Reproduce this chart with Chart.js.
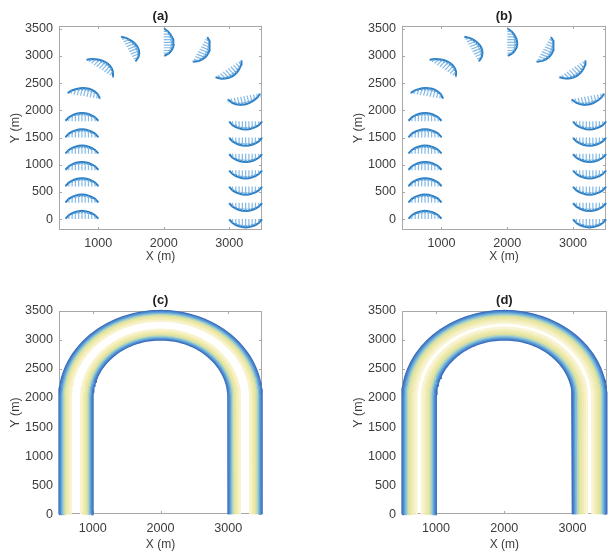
<!DOCTYPE html>
<html><head><meta charset="utf-8">
<script src="https://cdn.jsdelivr.net/npm/chart.js@4.4.0/dist/chart.umd.min.js"></script>
<style>
html,body{margin:0;padding:0;background:#fff;}
#wrap{position:relative;width:614px;height:554px;overflow:hidden;}
canvas{position:absolute;}
</style></head><body>
<div id="wrap">
<canvas id="ca" width="307" height="277" style="left:0;top:0"></canvas>
<canvas id="cb" width="307" height="277" style="left:307px;top:0"></canvas>
<canvas id="cc" width="307" height="277" style="left:0;top:277px"></canvas>
<canvas id="cd" width="307" height="277" style="left:307px;top:277px"></canvas>
</div>
<script>
// ---- tick labels ----
const xTicks = [1000, 2000, 3000];
const yTicks = [0, 500, 1000, 1500, 2000, 2500, 3000, 3500];
const panelTitles = ['(a)', '(b)', '(c)', '(d)'];

// ---- channel geometry (m) ----
const leftLegWalls = [1000, 500];     // inner, outer x
const rightLegWalls = [3000, 3500];   // inner, outer x
const bendCenter = [2000, 2000];
const bendRadii = [1000, 1500];       // inner, outer

// ---- velocity-profile stations (panels a, b) ----
const leftLegStations = [0, 300, 600, 900, 1200, 1500, 1800];   // y of section, flow +y
const bendStationsDeg = [168, 142, 116, 90, 64, 38, 12];          // section angle, flow clockwise
const rightLegStations = [1800, 1500, 1200, 900, 600, 300, 0];  // y of section, flow -y
const acrossOffsets = [0, 50, 100, 150, 200, 250, 300, 350, 400, 450, 500]; // m from inner wall

// profile arrow lengths (m) at each across offset
const profileStraightA = [8, 72, 108, 132, 147, 152, 147, 132, 108, 72, 8];
const profileBendA     = [10, 82, 118, 140, 150, 150, 142, 124, 98, 64, 8];
const profileStraightB = [8, 72, 108, 132, 147, 152, 147, 132, 108, 72, 8];
const profileBendB     = [10, 80, 116, 139, 150, 150, 143, 126, 100, 66, 8];

// ---- velocity contours (panels c, d): distance of each contour from a wall (m) ----
const contourOffsetsC = [3, 14, 27, 42, 58, 75, 95, 118, 145, 175];
const contourColorsC  = ['#3a68bd','#4279c5','#4f8dcf','#66a6d6','#88c0d6','#b3d6c0','#dfe4a0','#ece7a4','#f3edb6','#f8f3cc'];
const contourOffsetsD = [3, 15, 29, 45, 62, 82, 104, 128, 155, 185, 212];
const contourColorsD  = ['#3a68bd','#4279c5','#4f8dcf','#66a6d6','#88c0d6','#b3d6c0','#dce3a0','#e9e6a3','#f0eab0','#f5f0c2','#f9f4d4'];

const GAP = {x: null, y: null};
const rad = d => d * Math.PI / 180;

function sections() {
  const s = [];
  leftLegStations.forEach(y => s.push({base: o => [leftLegWalls[0] - o, y], dir: [0, 1], bend: false}));
  bendStationsDeg.forEach(d => {
    const t = rad(d);
    s.push({base: o => [bendCenter[0] + (bendRadii[0] + o) * Math.cos(t), bendCenter[1] + (bendRadii[0] + o) * Math.sin(t)],
            dir: [Math.sin(t), -Math.cos(t)], bend: true});
  });
  rightLegStations.forEach(y => s.push({base: o => [rightLegWalls[0] + o, y], dir: [0, -1], bend: false}));
  return s;
}

function quiverData(profStraight, profBend) {
  const hatch = [], env = [], heads = [];
  sections().forEach(sec => {
    const prof = sec.bend ? profBend : profStraight;
    const [dx, dy] = sec.dir;
    acrossOffsets.forEach((o, i) => {
      const [bx, by] = sec.base(o);
      const L = prof[i];
      const tx = bx + L * dx, ty = by + L * dy;
      hatch.push({x: bx, y: by}, {x: tx, y: ty}, GAP);
      env.push({x: tx, y: ty});
      const h = 0.3 * L, a = 0.35;
      const c = Math.cos(a), s = Math.sin(a);
      const r1 = [-(dx * c - dy * s) * h, -(dx * s + dy * c) * h];
      const r2 = [-(dx * c + dy * s) * h, -(-dx * s + dy * c) * h];
      heads.push({x: tx + r1[0], y: ty + r1[1]}, {x: tx, y: ty}, {x: tx + r2[0], y: ty + r2[1]}, GAP);
    });
    env.push(GAP);
  });
  return [hatch, env, heads];
}

function uPath(xLeft, radius, xRight) {
  const pts = [{x: xLeft, y: 0}, {x: xLeft, y: bendCenter[1]}];
  for (let d = 180; d >= 0; d -= 2) {
    const t = rad(d);
    pts.push({x: bendCenter[0] + radius * Math.cos(t), y: bendCenter[1] + radius * Math.sin(t)});
  }
  pts.push({x: xRight, y: bendCenter[1]}, {x: xRight, y: 0});
  return pts;
}

function contourDatasets(offsets, colors) {
  return offsets.map((d, i) => ({
    data: uPath(leftLegWalls[1] + d, bendRadii[1] - d, rightLegWalls[1] - d)
      .concat([GAP], uPath(leftLegWalls[0] - d, bendRadii[0] + d, rightLegWalls[0] + d)),
    borderColor: colors[i], borderWidth: 2, showLine: true, pointRadius: 0, clip: false, spanGaps: false
  })).reverse();
}

const FONT = '"Liberation Sans", Arial, Helvetica, sans-serif';
const TXT = '#3c3c3c';

const boxPlugin = {
  id: 'mbox',
  beforeDatasetsDraw(chart) {
    const {ctx, chartArea: a, scales: {x, y}} = chart;
    ctx.save();
    ctx.strokeStyle = '#a8a8a8'; ctx.lineWidth = 1;
    const L = Math.round(a.left) + 0.5, T = Math.round(a.top) + 0.5, R = Math.round(a.right) - 0.5, B = Math.round(a.bottom) - 0.5;
    ctx.strokeRect(L, T, R - L, B - T);
    ctx.beginPath();
    x.ticks.forEach(t => { const p = Math.round(x.getPixelForValue(t.value)) + 0.5; ctx.moveTo(p, B); ctx.lineTo(p, B - 2.5); ctx.moveTo(p, T); ctx.lineTo(p, T + 2.5); });
    y.ticks.forEach(t => { const p = Math.round(y.getPixelForValue(t.value)) + 0.5; ctx.moveTo(L, p); ctx.lineTo(L + 2.5, p); ctx.moveTo(R, p); ctx.lineTo(R - 2.5, p); });
    ctx.stroke();
    ctx.restore();
  }
};

function makeChart(id, title, datasets, cfg) {
  return new Chart(document.getElementById(id), {
    type: 'scatter',
    data: {datasets},
    plugins: [boxPlugin],
    options: {
      responsive: false, animation: false, events: [],
      layout: {padding: cfg.pad},
      plugins: {
        legend: {display: false}, tooltip: {enabled: false},
        title: {display: true, text: title, fullSize: false, color: '#222',
                font: {family: FONT, size: 13, weight: 'bold'}, padding: cfg.titlePad}
      },
      scales: {
        x: {
          type: 'linear', min: cfg.xlim[0], max: cfg.xlim[1],
          afterBuildTicks: s => { s.ticks = xTicks.map(v => ({value: v})); },
          afterFit: s => { s.height = cfg.xh; },
          grid: {display: false, drawTicks: false}, border: {display: false},
          ticks: {padding: cfg.xtp, color: TXT, font: {family: FONT, size: 12.6}, callback: v => String(v), maxRotation: 0},
          title: {display: true, text: 'X (m)', color: TXT, font: {family: FONT, size: 12}, padding: {top: 0, bottom: cfg.xTitleBottom}}
        },
        y: {
          type: 'linear', min: cfg.ylim[0], max: cfg.ylim[1],
          afterBuildTicks: s => { s.ticks = yTicks.map(v => ({value: v})); },
          afterFit: s => { s.width = 59; },
          grid: {display: false, drawTicks: false}, border: {display: false},
          ticks: {padding: 6, color: TXT, font: {family: FONT, size: 12.6}, callback: v => String(v)},
          title: {display: true, text: 'Y (m)', color: TXT, font: {family: FONT, size: 12.4}, padding: {top: 8.3, bottom: 0}}
        }
      }
    }
  });
}

function quiverDatasets(ps, pb) {
  const [hatch, env, heads] = quiverData(ps, pb);
  return [
    {data: hatch, borderColor: 'rgba(100,168,224,0.8)', borderWidth: 1.2, showLine: true, pointRadius: 0, spanGaps: false, clip: false},
    {data: heads, borderColor: 'rgba(45,130,200,0.8)', borderWidth: 1, showLine: true, pointRadius: 0, spanGaps: false, clip: false},
    {data: env, borderColor: '#2b7dc4', borderWidth: 2, showLine: true, pointRadius: 0, spanGaps: false, clip: false}
  ];
}

const topCfg = {titlePad: {top: 8.7, bottom: 1.7}, xh: 47, xtp: 6, xTitleBottom: 12.8, xlim: [400, 3500], ylim: [-200, 3550]};
const botCfg = {titlePad: {top: 15.7, bottom: 2.4}, xh: 39.7, xtp: 6.5, xTitleBottom: 1.8, xlim: [500, 3500], ylim: [0, 3500]};

makeChart('ca', panelTitles[0], quiverDatasets(profileStraightA, profileBendA), Object.assign({pad: {left: 0, right: 45, top: 0, bottom: 0}}, topCfg));
makeChart('cb', panelTitles[1], quiverDatasets(profileStraightB, profileBendB), Object.assign({pad: {left: 36, right: 8, top: 0, bottom: 0}}, topCfg));
makeChart('cc', panelTitles[2], contourDatasets(contourOffsetsC, contourColorsC), Object.assign({pad: {left: 0, right: 45, top: 0, bottom: 0}}, botCfg));
makeChart('cd', panelTitles[3], contourDatasets(contourOffsetsD, contourColorsD), Object.assign({pad: {left: 36, right: 7.3, top: 0, bottom: 0}}, botCfg));
</script>
</body></html>
